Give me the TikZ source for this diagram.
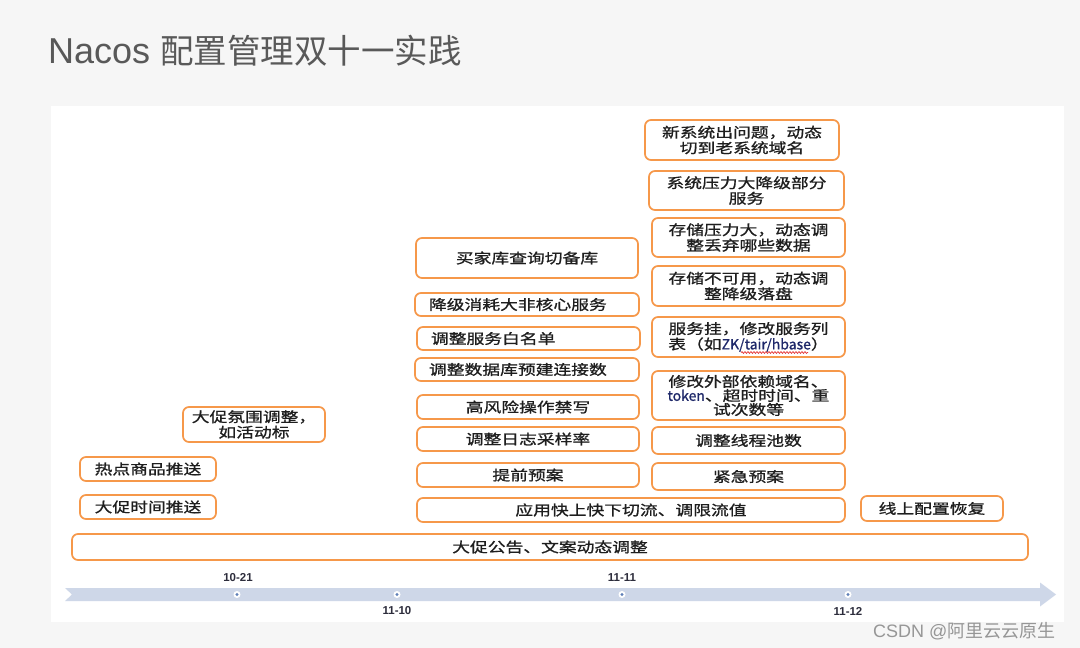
\documentclass[tikz,border=0pt]{standalone}
\usepackage{fontspec}
\setmainfont{Liberation Sans}
\newfontfamily\cjk[FakeStretch=1.27, FakeBold=1]{Noto Sans CJK SC}
\newfontfamily\cjklatin[FakeBold=1]{Noto Sans CJK SC}
\newfontfamily\cjktitle{Noto Sans CJK SC}
\newfontfamily\latinsans{Liberation Sans}
\usetikzlibrary{calc, decorations.pathmorphing}

\definecolor{slidegray}{RGB}{246,246,246}
\definecolor{titlegray}{RGB}{89,89,89}
\definecolor{evtorange}{RGB}{246,152,74}
\definecolor{evttext}{RGB}{30,30,30}
\definecolor{latinnavy}{RGB}{30,40,105}
\definecolor{axisblue}{RGB}{206,215,232}
\definecolor{dotblue}{RGB}{96,128,184}
\definecolor{marktext}{RGB}{45,45,60}
\definecolor{wmgray}{RGB}{150,150,150}
\definecolor{spellred}{RGB}{230,60,60}

\newcommand{\navy}[1]{{\cjklatin\color{latinnavy}#1}}

\begin{document}
\begin{tikzpicture}[x=1pt, y=-1pt,
    % --- STYLES ---
    evt/.style={draw=evtorange, line width=1.7pt, rounded corners=6pt, fill=white, inner sep=0pt, align=center, text=evttext, font=\cjk\fontsize{14}{15.5}\selectfont},
    evtleft/.style={evt, inner xsep=14pt, text width=#1, align=left},
    tick/.style={circle, fill=white, minimum size=7pt, inner sep=0pt, path picture={\fill[dotblue] (path picture bounding box.center) circle (1.6pt);}},
    datemark/.style={font=\latinsans\bfseries\fontsize{11.5}{13}\selectfont, text=marktext, inner sep=0pt}
]

    % --- SLIDE ---
    \useasboundingbox (0,0) rectangle (1080,648);
    \fill[slidegray] (0,0) rectangle (1080,648);
    \fill[white] (51,106) rectangle (1064,622);

    \node[anchor=base west, inner sep=0pt, text=titlegray] (title) at (48,63) {\latinsans\fontsize{36}{40}\selectfont Nacos {\cjktitle\fontsize{33.5}{40}\selectfont 配置管理双十一实践}};

    % --- EARLY PUSHES ---
    \node[evt, minimum width=142pt, minimum height=35pt] (atmos) at (254,424.5) {大促氛围调整，\\如活动标};
    \node[evt, minimum width=136pt, minimum height=24pt] (hotpush) at (148,469) {热点商品推送};
    \node[evt, minimum width=136pt, minimum height=24pt] (timepush) at (148,507) {大促时间推送};
    \node[evt, minimum width=956pt, minimum height=26pt] (notice) at (550,547) {大促公告、文案动态调整};

    % --- PLANNED (11-10) ---
    \node[evt, minimum width=222pt, minimum height=40pt] (buyerdb) at (527,258) {买家库查询切备库};
    \node[evtleft=196pt, minimum height=23pt] (degrade) at (527,304.5) {降级消耗大非核心服务};
    \node[evtleft=195pt, minimum height=23pt] (whitelist) at (528.5,338.5) {调整服务白名单};
    \node[evtleft=196pt, minimum height=23pt] (dbconn) at (527,369.5) {调整数据库预建连接数};
    \node[evt, minimum width=222pt, minimum height=24pt] (nowrite) at (528,407) {高风险操作禁写};
    \node[evt, minimum width=222pt, minimum height=24pt] (logsample) at (528,439) {调整日志采样率};
    \node[evt, minimum width=222pt, minimum height=24pt] (preplan) at (528,475) {提前预案};
    \node[evt, minimum width=428pt, minimum height=24pt] (traffic) at (631,510) {应用快上快下切流、调限流值};

    % --- EMERGENCY (11-11) ---
    \node[evt, minimum width=194pt, minimum height=40pt] (fallback) at (742,140) {新系统出问题，动态\\切到老系统域名};
    \node[evt, minimum width=195pt, minimum height=39pt] (sysload) at (746.5,190.5) {系统压力大降级部分\\服务};
    \node[evt, minimum width=193pt, minimum height=39pt] (storeload) at (748.5,237.5) {存储压力大，动态调\\整丢弃哪些数据};
    \node[evt, minimum width=193pt, minimum height=40pt] (storedown) at (748.5,286) {存储不可用，动态调\\整降级落盘};
    \node[evt, minimum width=193pt, minimum height=40pt] (svcdown) at (748.5,337) {服务挂，修改服务列\\表（如\navy{ZK/tair/hbase}）};
    \node[evt, minimum width=193pt, minimum height=49pt, font=\cjk\fontsize{14}{14}\selectfont] (extdep) at (748.5,395.5) {修改外部依赖域名、\\\navy{token}、超时时间、重\\试次数等};
    \node[evt, minimum width=193pt, minimum height=27pt] (threadpool) at (748.5,440.5) {调整线程池数};
    \node[evt, minimum width=193pt, minimum height=27pt] (emergency) at (748.5,476.5) {紧急预案};

    % --- AFTER (11-12) ---
    \node[evt, minimum width=142pt, minimum height=25pt] (restore) at (932,508.5) {线上配置恢复};

    % spell-check squiggle
    \draw[spellred, line width=0.75pt, decorate, decoration={snake, amplitude=0.9pt, segment length=3pt}] (741,352.5) -- (808,352.5);

    % --- TIMELINE ---
    \coordinate (axisL) at (65,594.5);
    \coordinate (axisR) at (1056,594.5);
    \fill[axisblue] ($(axisL)+(0,-6.5)$) -- ($(axisR)+(-16,-6.5)$) -- ($(axisR)+(-16,-12)$) -- (axisR)
        -- ($(axisR)+(-16,12)$) -- ($(axisR)+(-16,6.5)$) -- ($(axisL)+(0,6.5)$) -- ($(axisL)+(7,0)$) -- cycle;

    \node[tick] (t1021) at (237,594.5) {};
    \node[tick] (t1110) at (397,594.5) {};
    \node[tick] (t1111) at (622,594.5) {};
    \node[tick] (t1112) at (848,594.5) {};

    \node[datemark] (l1021) at (238,578) {10-21};
    \node[datemark] (l1110) at (397,611) {11-10};
    \node[datemark] (l1111) at (622,578) {11-11};
    \node[datemark] (l1112) at (848,611) {11-12};

    \node[anchor=base west, inner sep=0pt, text=wmgray] (wm) at (873,637) {\latinsans\fontsize{18}{20}\selectfont CSDN @{\cjktitle 阿里云云原生}};

\end{tikzpicture}
\end{document}
